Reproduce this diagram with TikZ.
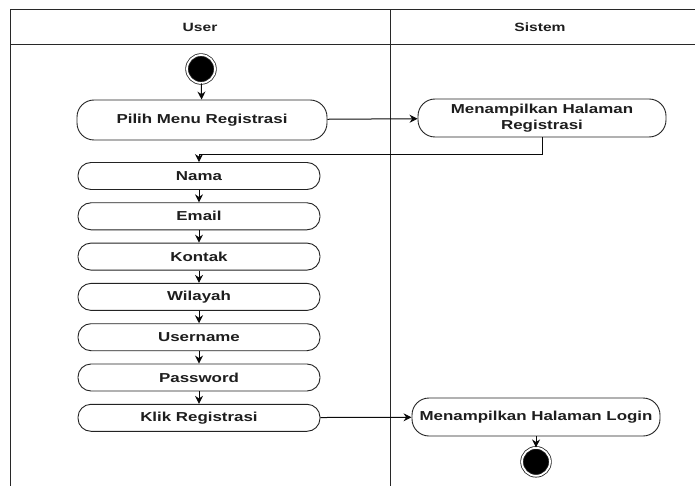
\documentclass[tikz,border=0pt]{standalone}
\usepackage{fontspec}
\setmainfont{Liberation Sans}[FakeStretch=1.3]
\usepackage{tikz}
\usetikzlibrary{arrows.meta,positioning}
\definecolor{laneclr}{RGB}{40,40,40}
\definecolor{boxbdr}{RGB}{35,35,35}
\definecolor{hdrclr}{RGB}{30,30,30}
\definecolor{arrowclr}{RGB}{10,10,10}
\tikzset{
  act/.style={rectangle,rounded corners=13pt,draw=boxbdr,fill=white,line width=0.9pt,
    minimum width=242pt,minimum height=27pt,
    font=\fontsize{13}{16}\selectfont\bfseries,align=center,text=hdrclr,inner sep=2pt},
  bigact/.style={act,rounded corners=17pt,minimum width=248pt,minimum height=38pt},
  lane/.style={line width=1pt,color=laneclr},
  hdr/.style={font=\fontsize{12}{14}\selectfont\bfseries,text=hdrclr},
  ends/.style={circle,draw=boxbdr,fill=black,line width=0.8pt,
    double=white,double distance=1.8pt,minimum size=28pt,inner sep=0pt},
  arr/.style={-{Stealth[length=8pt,width=8pt]},line width=1pt,color=arrowclr},
}
\begin{document}
\begin{tikzpicture}[x=1pt,y=-1pt,node distance=12.4pt]
  \useasboundingbox (0,0) rectangle (695,486);
  % swimlanes
  \draw[lane] (10,486) -- (10,10) -- (695,10);
  \draw[lane] (10,45) -- (695,45);
  \draw[lane] (390,10) -- (390,486);
  \node[hdr] (user) at (200,27) {User};
  \node[hdr] (sis) at (540,27) {Sistem};

  \node[ends] (start) at (201,69) {};
  \node[act,minimum width=250pt,minimum height=40pt,rounded corners=17pt] (pilih) at (202,120) {Pilih Menu Registrasi};
  \node[bigact] (regis) at (542,118) {Menampilkan Halaman\\Registrasi};
  \node[act] (nama) at (199,176) {Nama};
  \node[act,below=of nama] (email) {Email};
  \node[act,below=of email] (kontak) {Kontak};
  \node[act,below=of kontak] (wil) {Wilayah};
  \node[act,below=of wil] (usern) {Username};
  \node[act,below=of usern] (pass) {Password};
  \node[act,below=of pass] (klik) {Klik Registrasi};
  \node[bigact] (login) at (536,417) {Menampilkan Halaman Login};
  \node[ends,below=11pt of login] (stop) {};

  \draw[arr] (start)--(pilih);
  \draw[arr] (pilih)--(regis);
  \draw[arr] (regis.south) -- ++(0,17) -| (nama.north);
  \draw[arr] (nama)--(email); \draw[arr] (email)--(kontak);
  \draw[arr] (kontak)--(wil); \draw[arr] (wil)--(usern);
  \draw[arr] (usern)--(pass); \draw[arr] (pass)--(klik);
  \draw[arr] (klik)--(login);
  \draw[arr] (login)--(stop);
\end{tikzpicture}
\end{document}
